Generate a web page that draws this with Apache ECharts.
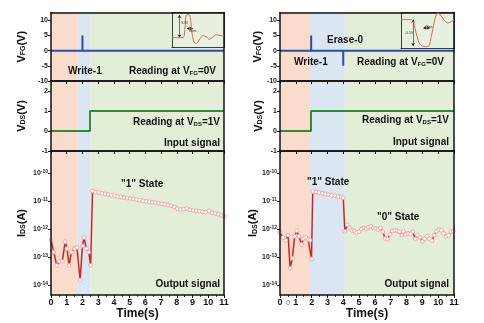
<!DOCTYPE html>
<html><head><meta charset="utf-8">
<script src="https://cdn.jsdelivr.net/npm/echarts@6/dist/echarts.min.js"></script>
<style>html,body{margin:0;padding:0;background:#fff}#c{width:484px;height:323px}</style>
</head><body><div id="c"></div>
<script>
// ---------- data ----------
const timeTicks = [0,1,2,3,4,5,6,7,8,9,10,11];
const vfgTicks = [-10,-5,0,5,10];
const vdsTicks = [-1,0,1,2];
const idsExpTicks = [-14,-13,-12,-11,-10];

const leftBands = [0, 1.7, 2.5, 11];
const rightBands = [0, 1.9, 4.1, 11];

const leftVfgT = [0, 2.0, 2.0, 2.0, 11];
const leftVfgV = [0, 0, 5, 0, 0];
const rightVfgT = [0, 1.97, 1.97, 1.97, 4.0, 4.0, 4.0, 11];
const rightVfgV = [0, 0, 5, 0, 0, -5, 0, 0];

const leftVdsT = [0, 2.48, 2.48, 11];
const leftVdsV = [0, 0, 1, 1];
const rightVdsT = [0, 1.96, 1.96, 11];
const rightVdsV = [0, 0, 1, 1];

const leftIdsT = [0,0.18,0.36,0.54,0.72,0.9,1.02,1.15,1.3,1.5,1.65,1.85,2.0,2.1,2.25,2.4,2.52,
  2.64,2.84,3.04,3.24,3.44,3.64,3.84,4.04,4.24,4.44,4.64,4.84,5.04,5.24,5.44,5.64,5.84,6.04,6.24,6.44,6.64,6.84,7.04,7.24,7.44,7.64,7.84,8.04,8.24,8.44,8.64,8.84,9.04,9.24,9.44,9.64,9.84,10.04,10.24,10.44,10.64,10.84,11.0];
const leftIdsV = [4e-13,1.5e-13,5e-14,7e-14,7e-14,3.5e-13,2e-13,5e-14,1.5e-13,2e-13,2.2e-13,1.5e-14,2.5e-13,5e-13,2e-13,1.5e-13,5e-14,
  2.3e-11,2.1e-11,2.0e-11,1.9e-11,1.8e-11,1.72e-11,1.62e-11,1.55e-11,1.45e-11,1.4e-11,1.33e-11,1.28e-11,1.23e-11,1.2e-11,1.13e-11,1.08e-11,1.02e-11,9.8e-12,9.3e-12,9.0e-12,8.7e-12,8.2e-12,7.9e-12,7.5e-12,7.2e-12,6.8e-12,6.2e-12,5.3e-12,5.0e-12,5.2e-12,5.4e-12,4.8e-12,4.6e-12,4.5e-12,4.3e-12,4.1e-12,4.0e-12,4.5e-12,3.9e-12,3.6e-12,3.4e-12,3.1e-12,2.9e-12];

const rightIdsT = [0,0.19,0.36,0.51,0.64,0.78,0.93,1.06,1.2,1.36,1.48,1.63,1.78,1.9,1.99,
  2.07,2.27,2.47,2.67,2.87,3.07,3.27,3.47,3.67,3.87,4.0,
  4.1,4.25,4.4,4.55,4.7,4.85,5.0,5.15,5.3,5.45,5.6,5.75,5.9,6.05,6.2,6.35,6.5,6.65,6.8,6.95,7.1,7.25,7.4,7.55,7.7,7.8,7.95,8.1,8.25,8.4,8.55,8.7,8.85,9.0,9.15,9.3,9.45,9.6,9.75,9.9,10.05,10.2,10.35,10.5,10.65,10.8,10.95];
const rightIdsV = [7.6e-13,5e-13,4e-13,6e-13,4e-14,9e-14,5.5e-13,8.7e-13,5.5e-13,2.8e-13,4.5e-13,5e-13,4.2e-13,4e-13,8.5e-14,
  2.2e-11,2.1e-11,2.0e-11,1.9e-11,1.8e-11,1.7e-11,1.6e-11,1.55e-11,1.45e-11,1.4e-11,1.3e-11,
  8.3e-13,1.4e-12,1.1e-12,9e-13,8.5e-13,7.5e-13,8e-13,1.0e-12,1.1e-12,1.0e-12,1.15e-12,1.25e-12,1.1e-12,1.05e-12,9.5e-13,1.1e-12,8e-13,4.6e-13,4.3e-13,6.5e-13,8.5e-13,9e-13,8.5e-13,8e-13,6e-13,8.3e-13,6.5e-13,7e-13,6.5e-13,8e-13,4.4e-13,6e-13,5e-13,3.6e-13,4.5e-13,5.5e-13,4.5e-13,3.8e-13,6e-13,8.3e-13,9.5e-13,9e-13,7e-13,5.5e-13,6e-13,8e-13,8.5e-13];

const insetLeftT = [0,16,30,33,36,38,43,48,51,54,57,61,65,70,76,84,92,100,110,120,130,140];
const insetLeftV = [0,0,0,0.5,3.5,5.4,5.6,5.4,3.5,1.0,-0.4,-1.3,-1.5,-1.0,-0.2,0.5,0.2,-0.4,0.1,0.7,0.5,0.4];
const insetRightT = [0,15,28,34,40,48,56,65,74,80,86,90,94,98,104,112,124,132,140];
const insetRightV = [0,0,0,-0.8,-2.8,-4.8,-5.5,-5.6,-5.4,-3.5,-1.2,0.3,1.2,1.4,1.0,0.1,-0.7,-0.4,0];

// ---------- styling / layout ----------
const FONT = 'Liberation Sans, Arial, sans-serif';
const bandColors = ['#f9dccb', '#dbe6f3', '#e3eed8'];
const rows = [{top:12.5, h:68.5}, {top:81, h:70}, {top:151, h:144}];
const cols = [{left:51, w:173, nameGap:24}, {left:280, w:174, nameGap:16}];
const rowY = [
  {min:-10, max:12.6, ticks:vfgTicks, name:'V{sub|FG}(V)'},
  {min:-1, max:2.5, ticks:vdsTicks, name:'V{sub|DS}(V)'},
  {min:-14.36, max:-9.21, ticks:idsExpTicks, name:'I{sub|DS}(A)', log:true}
];

const pairs = (ts, vs, f) => ts.map((t, i) => [t, f ? f(vs[i]) : vs[i]]);
const bandArea = b => ({
  silent: true,
  data: [0,1,2].map(i => [{xAxis: b[i], itemStyle:{color: bandColors[i]}}, {xAxis: b[i+1]}])
});

const grid = [], xAxis = [], yAxis = [], series = [];
const lineBlack = w => ({show:true, onZero:false, lineStyle:{color:'#111', width:w}});

cols.forEach((c, ci) => {
  rows.forEach((r, ri) => {
    const gi = grid.length;
    grid.push({left:c.left, top:r.top, width:c.w, height:r.h});
    const bottom = ri === 2;
    xAxis.push({
      gridIndex: gi, type:'value', min:0, max:11, interval:1, z:5,
      axisLine: lineBlack(1.5),
      axisTick: {show:true, length:3, lineStyle:{color:'#111', width:1}},
      minorTick: {show: bottom, splitNumber:2, length:2, lineStyle:{color:'#111', width:0.8}},
      splitLine: {show:false},
      axisLabel: {show: bottom, customValues: timeTicks, fontSize:9, fontWeight:'bold', color:'#111', margin:3, fontFamily:FONT},
      name: bottom ? 'Time(s)' : '', nameLocation:'middle', nameGap:11,
      nameTextStyle: {fontSize:12, fontWeight:'bold', color:'#111', fontFamily:FONT}
    });
    xAxis.push({
      gridIndex: gi, type:'value', min:0, max:11, position:'top', z:5,
      axisLine: lineBlack(1.5), axisTick:{show:false}, axisLabel:{show:false}, splitLine:{show:false}
    });
    const y = rowY[ri];
    yAxis.push({
      gridIndex: gi, type:'value', min:y.min, max:y.max, z:5,
      axisLine: lineBlack(1.5),
      axisTick: {show:true, customValues: y.ticks, length:3, lineStyle:{color:'#111', width:1}},
      splitLine: {show:false},
      axisLabel: {
        customValues: y.ticks, fontSize:7, fontWeight:'bold', color:'#222', margin:3, fontFamily:FONT,
        formatter: y.log ? (v => '10{s|' + v + '}') : (v => String(v)),
        rich: {s: {fontSize:5, fontWeight:'bold', color:'#222', verticalAlign:'top', padding:[0,0,3,0], fontFamily:FONT}}
      },
      name: y.name, nameLocation:'middle', nameRotate:90, nameGap: c.nameGap,
      nameTextStyle: {fontSize:11, fontWeight:'bold', color:'#111', fontFamily:FONT,
        rich: {sub: {fontSize:7, fontWeight:'bold', color:'#111', verticalAlign:'bottom', fontFamily:FONT}}}
    });
    yAxis.push({
      gridIndex: gi, type:'value', min:y.min, max:y.max, position:'right', z:5,
      axisLine: lineBlack(1.5), axisTick:{show:false}, axisLabel:{show:false}, splitLine:{show:false}
    });
  });
});

// series for main panels (xAxis/yAxis index = 2*gi)
const bandsOf = [leftBands, rightBands];
const vfg = [pairs(leftVfgT, leftVfgV), pairs(rightVfgT, rightVfgV)];
const vds = [pairs(leftVdsT, leftVdsV), pairs(rightVdsT, rightVdsV)];
const ids = [pairs(leftIdsT, leftIdsV, Math.log10), pairs(rightIdsT, rightIdsV, Math.log10)];

[0,1].forEach(ci => {
  const g0 = ci * 3;
  series.push({
    type:'line', xAxisIndex: 2*g0, yAxisIndex: 2*g0, data: vfg[ci], showSymbol:false,
    lineStyle:{color:'#2d4e9e', width:2}, markArea: bandArea(bandsOf[ci]), z:3
  });
  series.push({
    type:'line', xAxisIndex: 2*(g0+1), yAxisIndex: 2*(g0+1), data: vds[ci], showSymbol:false,
    lineStyle:{color:'#2f8a3c', width:2}, markArea: bandArea(bandsOf[ci]), z:3
  });
  series.push({
    type:'line', xAxisIndex: 2*(g0+2), yAxisIndex: 2*(g0+2), data: ids[ci],
    symbol:'circle', symbolSize:3.8, showSymbol:true,
    itemStyle:{color:'#fff', borderColor:'#ec9696', borderWidth:0.8},
    lineStyle:{color:'#cf2327', width:1.5}, markArea: bandArea(bandsOf[ci]), z:3
  });
});

// insets
const insets = [
  {left:172, top:12.5, w:52, h:35, min:-2.4, max:6.1, data: pairs(insetLeftT, insetLeftV),
   vArrow:[[20,0],[20,5.5]], hArrow:[[40,2.2],[56,2.2]]},
  {left:401, top:12.5, w:53, h:36, min:-6.0, max:1.5, data: pairs(insetRightT, insetRightV),
   vArrow:[[32,0],[32,-5.5]], hArrow:[[59,-1.7],[76,-1.7]]}
];
insets.forEach(ins => {
  const gi = grid.length;
  grid.push({left:ins.left, top:ins.top, width:ins.w, height:ins.h, show:true, backgroundColor:'#e8f1df', borderWidth:0, z:4});
  xAxis.push({gridIndex:gi, type:'value', min:0, max:140, z:6, axisLine:lineBlack(0.8), axisTick:{show:false}, axisLabel:{show:false}, splitLine:{show:false}});
  xAxis.push({gridIndex:gi, type:'value', min:0, max:140, position:'top', z:6, axisLine:lineBlack(0.8), axisTick:{show:false}, axisLabel:{show:false}, splitLine:{show:false}});
  yAxis.push({gridIndex:gi, type:'value', min:ins.min, max:ins.max, z:6, axisLine:lineBlack(0.8), axisTick:{show:false}, axisLabel:{show:false}, splitLine:{show:false}});
  yAxis.push({gridIndex:gi, type:'value', min:ins.min, max:ins.max, position:'right', z:6, axisLine:lineBlack(0.8), axisTick:{show:false}, axisLabel:{show:false}, splitLine:{show:false}});
  series.push({
    type:'line', xAxisIndex: 2*gi, yAxisIndex: 2*gi, data: ins.data, showSymbol:false, smooth:0.3, z:8,
    lineStyle:{color:'#d9694f', width:1},
    markLine: {
      silent:true, symbol:['arrow','arrow'], symbolSize:3, label:{show:false},
      lineStyle:{color:'#222', width:0.6, type:'solid'},
      data: [
        [{coord: ins.vArrow[0]}, {coord: ins.vArrow[1]}],
        [{coord: ins.hArrow[0]}, {coord: ins.hArrow[1]}]
      ]
    }
  });
});

// ---------- annotations ----------
const rich = {sub: {fontSize:6, fontWeight:'bold', fill:'#111', verticalAlign:'bottom', fontFamily:FONT}};
const txt = (x, y, text, align, size, extra) => ({
  type:'text', x, y, z:100,
  style: Object.assign({text, fill:'#111', fontSize: size || 10, fontWeight:'bold', fontFamily:FONT,
    align: align || 'left', verticalAlign:'middle', rich}, extra || {})
});
const graphic = [
  txt(68, 71, 'Write-1'),
  txt(129, 71, 'Reading at V{sub|FG}=0V'),
  txt(220, 122, 'Reading at V{sub|DS}=1V', 'right'),
  txt(220, 143, 'Input signal', 'right'),
  txt(121, 184, '"1" State'),
  txt(220, 284, 'Output signal', 'right'),
  txt(327, 40, 'Erase-0'),
  txt(294, 62, 'Write-1'),
  txt(357, 62, 'Reading at V{sub|FG}=0V'),
  txt(449, 120, 'Reading at V{sub|DS}=1V', 'right'),
  txt(449, 142, 'Input signal', 'right'),
  txt(307, 182, '"1" State'),
  txt(377, 217, '"0" State'),
  txt(449, 284, 'Output signal', 'right'),
  txt(286, 303, '0', 'left', 8, {fontWeight:'normal', fill:'#777'}),
  txt(181, 23, '5.5V', 'left', 3.5, {fontWeight:'normal', fill:'#333'}),
  txt(189, 31, '40ns', 'left', 3.5, {fontWeight:'normal', fill:'#333'}),
  txt(405, 33, '-5.5V', 'left', 3.5, {fontWeight:'normal', fill:'#333'}),
  txt(425, 27, '40ns', 'left', 3.5, {fontWeight:'normal', fill:'#333'})
];

const chart = echarts.init(document.getElementById('c'), null, {renderer:'canvas'});
chart.setOption({
  animation:false, backgroundColor:'#fff',
  textStyle:{fontFamily:FONT},
  grid, xAxis, yAxis, series, graphic
});
</script>
</body></html>
